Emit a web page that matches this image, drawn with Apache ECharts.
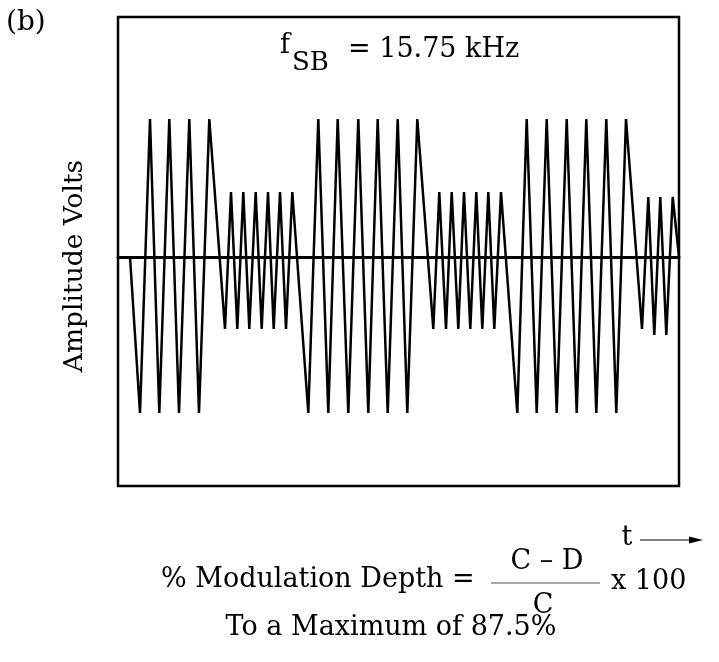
<!DOCTYPE html>
<html>
<head>
<meta charset="utf-8">
<script src="https://cdn.jsdelivr.net/npm/echarts@6/dist/echarts.min.js"></script>
<style>
html,body{margin:0;padding:0;background:#fff;}
#chart{width:719px;height:662px;}
</style>
</head>
<body>
<div id="chart"></div>
<script>
// time (arbitrary units) of each vertex of the waveform
const time = [12,
  22, 32, 41.3, 51.3, 61, 71.3, 81, 91.3,
  107, 113, 119.3, 125.3, 131.3, 137.7, 143.7, 150, 155.7, 162, 168, 174.3,
  190.3, 200.3, 210.3, 219.7, 230.3, 240.3, 250.3, 259.7, 269.7, 279.7, 289.3, 299.3,
  315.3, 321.3, 328, 333.7, 340.3, 346, 352.3, 358.3, 364.3, 370.3, 376.3, 383,
  399.3, 408.7, 418.7, 428.7, 438.7, 448.7, 458.7, 468.3, 478.3, 488.3, 498.3, 508,
  524, 530.3, 536.3, 542.3, 548.3, 554.7,
  561];
// amplitude at each vertex
const amplitude = [0,
  -156, 138, -156, 138, -156, 138, -156, 138,
  -72, 65, -72, 65, -72, 65, -72, 65, -72, 65, -72, 65,
  -156, 138, -156, 138, -156, 138, -156, 138, -156, 138, -156, 138,
  -72, 65, -72, 65, -72, 65, -72, 65, -72, 65, -72, 65,
  -156, 138, -156, 138, -156, 138, -156, 138, -156, 138, -156, 138,
  -72, 60, -78, 60, -78, 60,
  0];
const xRange = [0, 561];
const yRange = [-229, 240];

const titleText = '= 15.75 kHz';
const yLabel = 'Amplitude Volts';
const panelLabel = '(b)';
const formulaLeft = '% Modulation Depth =';
const numerator = 'C \u2013 D';
const denominator = 'C';
const formulaRight = 'x 100';
const maxText = 'To a Maximum of 87.5%';

const FONT = '"DejaVu Serif", serif';
const chart = echarts.init(document.getElementById('chart'));
const txt = (text, x, y, size, align, extra) => Object.assign({
  type: 'text', x: x, y: y,
  style: { text: text, font: size + 'px ' + FONT, fill: '#000', align: align || 'left', verticalAlign: 'middle' }
}, extra || {});

chart.setOption({
  animation: false,
  backgroundColor: '#fff',
  grid: { left: 118, top: 17, width: 561, height: 469, show: true, borderColor: '#000', borderWidth: 2.5, backgroundColor: 'transparent' },
  xAxis: {
    type: 'value', min: xRange[0], max: xRange[1],
    axisLine: { show: true, onZero: true, lineStyle: { color: '#000', width: 3 } },
    axisTick: { show: false }, axisLabel: { show: false }, splitLine: { show: false }
  },
  yAxis: {
    type: 'value', min: yRange[0], max: yRange[1],
    axisLine: { show: false }, axisTick: { show: false }, axisLabel: { show: false }, splitLine: { show: false }
  },
  series: [{
    type: 'line',
    data: time.map((t, i) => [t, amplitude[i]]),
    symbol: 'none',
    lineStyle: { color: '#000', width: 2.5 }
  }],
  graphic: [
    txt(panelLabel, 6, 23, 28),
    txt('f', 280, 46, 27),
    txt('SB', 292, 63, 26),
    txt(titleText, 348, 50, 27),
    txt(yLabel, 75, 266, 26.5, 'center', { rotation: Math.PI / 2 }),
    txt('t', 627, 538, 27, 'center'),
    { type: 'line', shape: { x1: 640, y1: 540, x2: 695, y2: 540 }, style: { stroke: '#000', lineWidth: 1.2 } },
    { type: 'polygon', shape: { points: [[689, 536.5], [703, 540], [689, 543.5]] }, style: { fill: '#000' } },
    txt(formulaLeft, 161, 580, 27),
    txt(numerator, 547, 562, 27, 'center'),
    { type: 'line', shape: { x1: 491, y1: 583, x2: 600, y2: 583 }, style: { stroke: '#555', lineWidth: 1.2 } },
    txt(denominator, 543, 606, 27, 'center'),
    txt(formulaRight, 611, 582, 27),
    txt(maxText, 391, 628, 27, 'center')
  ]
});
</script>
</body>
</html>
